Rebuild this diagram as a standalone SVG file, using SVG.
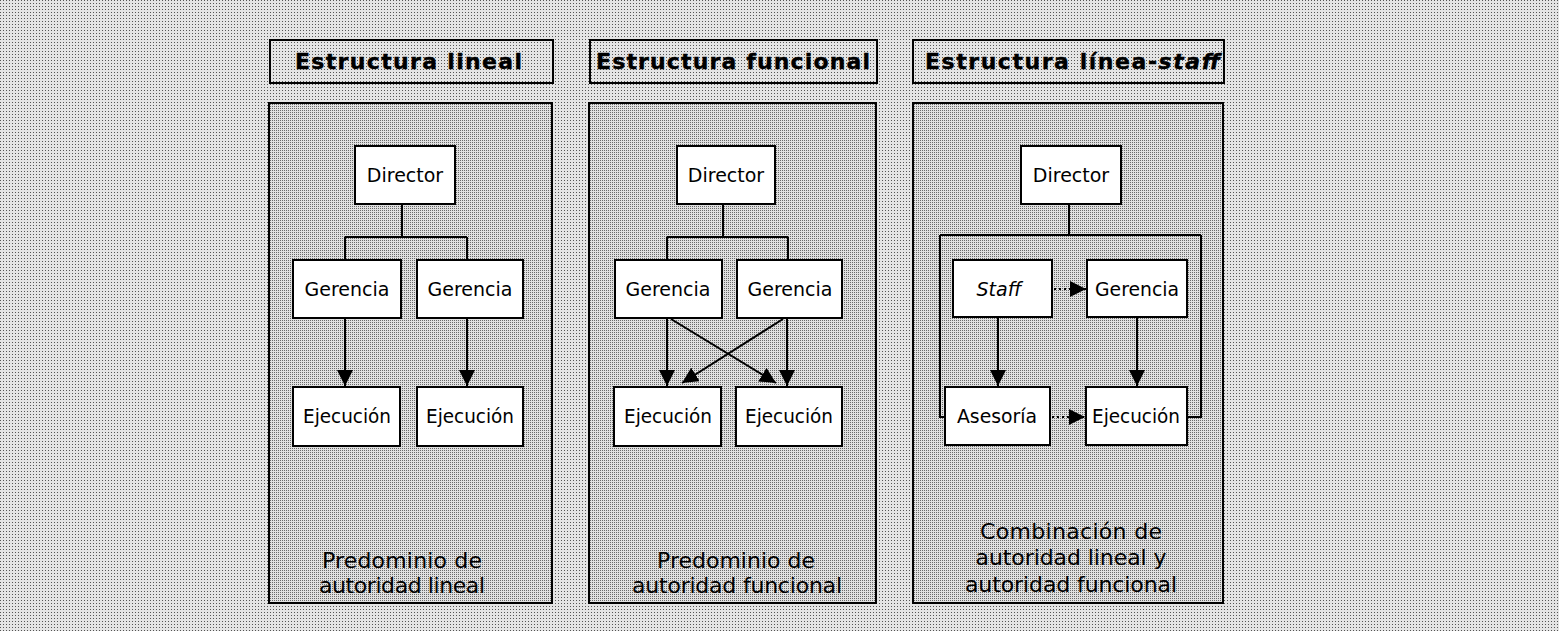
<svg xmlns="http://www.w3.org/2000/svg" width="1559" height="631" viewBox="0 0 1559 631">
<style>
.node{fill:#fff;stroke:#000;stroke-width:2}
.frame{stroke:#000;stroke-width:2}
.nt{font-family:"DejaVu Sans","Liberation Sans",sans-serif;font-size:19px;text-anchor:middle;fill:#000}
.tt{font-family:"DejaVu Sans","Liberation Sans",sans-serif;font-size:22px;font-weight:bold;fill:#000;stroke:#000;stroke-width:0.4}
.ft{font-family:"DejaVu Sans","Liberation Sans",sans-serif;font-size:22px;fill:#000;text-anchor:middle}
.ln{fill:none;stroke:#000;stroke-width:2}
.dot{fill:none;stroke:#000;stroke-width:2;stroke-dasharray:2 3}
</style>
<defs>
<pattern id="bgp" width="3" height="3" patternUnits="userSpaceOnUse">
<rect width="3" height="3" fill="#e4e4e4"/>
<rect width="1" height="1" fill="#555"/>
</pattern>
<pattern id="pnp" width="2" height="2" patternUnits="userSpaceOnUse">
<rect width="2" height="2" fill="#e0e0e0"/>
<rect width="1" height="1" fill="#6a6a6a"/>
</pattern>
<marker id="ah" viewBox="0 0 16 16" refX="16" refY="8" markerWidth="16" markerHeight="16" markerUnits="userSpaceOnUse" orient="auto">
<path d="M0,0 L16,8 L0,16 z" fill="#000"/>
</marker>
</defs>
<rect width="1559" height="631" fill="url(#bgp)"/>

<!-- Panel 1 -->
<g id="panel1">
<rect class="frame" x="270" y="40" width="283" height="43" fill="url(#bgp)"/>
<text class="tt" x="295" y="69" textLength="227" lengthAdjust="spacing">Estructura lineal</text>
<rect class="frame" x="269" y="103" width="283" height="500" fill="url(#pnp)"/>
<text class="ft" x="402" y="568" textLength="160" lengthAdjust="spacing">Predominio de</text>
<text class="ft" x="402" y="593" textLength="166" lengthAdjust="spacing">autoridad lineal</text>
</g>
<g id="p1-director"><rect class="node" x="355" y="146" width="100" height="58"/><text class="nt" x="405" y="182">Director</text></g>
<g id="p1-gerencia1"><rect class="node" x="293" y="260" width="108" height="58"/><text class="nt" x="347" y="296">Gerencia</text></g>
<g id="p1-gerencia2"><rect class="node" x="417" y="260" width="106" height="58"/><text class="nt" x="470" y="296">Gerencia</text></g>
<g id="p1-ejecucion1"><rect class="node" x="293" y="387" width="107" height="59"/><text class="nt" x="347" y="423" textLength="88" lengthAdjust="spacingAndGlyphs">Ejecución</text></g>
<g id="p1-ejecucion2"><rect class="node" x="417" y="387" width="106" height="59"/><text class="nt" x="470" y="423" textLength="88" lengthAdjust="spacingAndGlyphs">Ejecución</text></g>

<!-- Panel 2 -->
<g id="panel2">
<rect class="frame" x="590" y="40" width="287" height="43" fill="url(#bgp)"/>
<text class="tt" x="596" y="69" textLength="274" lengthAdjust="spacing">Estructura funcional</text>
<rect class="frame" x="589" y="103" width="287" height="500" fill="url(#pnp)"/>
<text class="ft" x="736" y="568" textLength="158" lengthAdjust="spacing">Predominio de</text>
<text class="ft" x="737" y="593" textLength="210" lengthAdjust="spacing">autoridad funcional</text>
</g>
<g id="p2-director"><rect class="node" x="677" y="146" width="98" height="58"/><text class="nt" x="726" y="182">Director</text></g>
<g id="p2-gerencia1"><rect class="node" x="615" y="260" width="107" height="58"/><text class="nt" x="668" y="296">Gerencia</text></g>
<g id="p2-gerencia2"><rect class="node" x="737" y="260" width="105" height="58"/><text class="nt" x="790" y="296">Gerencia</text></g>
<g id="p2-ejecucion1"><rect class="node" x="614" y="387" width="107" height="59"/><text class="nt" x="668" y="423" textLength="88" lengthAdjust="spacingAndGlyphs">Ejecución</text></g>
<g id="p2-ejecucion2"><rect class="node" x="736" y="387" width="106" height="59"/><text class="nt" x="789" y="423" textLength="88" lengthAdjust="spacingAndGlyphs">Ejecución</text></g>

<!-- Panel 3 -->
<g id="panel3">
<rect class="frame" x="913" y="40" width="311" height="43" fill="url(#bgp)"/>
<text class="tt" x="925" y="69" textLength="295" lengthAdjust="spacing">Estructura línea-<tspan font-style="italic">staff</tspan></text>
<rect class="frame" x="913" y="103" width="310" height="500" fill="url(#pnp)"/>
<text class="ft" x="1071" y="539" textLength="182" lengthAdjust="spacing">Combinación de</text>
<text class="ft" x="1071" y="565" textLength="191" lengthAdjust="spacing">autoridad lineal y</text>
<text class="ft" x="1071" y="592" textLength="212" lengthAdjust="spacing">autoridad funcional</text>
</g>
<g id="p3-director"><rect class="node" x="1021" y="146" width="100" height="58"/><text class="nt" x="1071" y="182">Director</text></g>
<g id="p3-staff"><rect class="node" x="953" y="260" width="99" height="57"/><text class="nt" x="999" y="296" font-style="italic" font-size="16px">Staff</text></g>
<g id="p3-gerencia"><rect class="node" x="1087" y="260" width="100" height="57"/><text class="nt" x="1137" y="296" textLength="84" lengthAdjust="spacingAndGlyphs">Gerencia</text></g>
<g id="p3-asesoria"><rect class="node" x="945" y="387" width="105" height="58"/><text class="nt" x="997" y="423" textLength="80" lengthAdjust="spacingAndGlyphs">Asesoría</text></g>
<g id="p3-ejecucion"><rect class="node" x="1086" y="387" width="101" height="58"/><text class="nt" x="1136" y="423" textLength="88" lengthAdjust="spacingAndGlyphs">Ejecución</text></g>

<!-- Connectors -->
<g id="connectors">
<path class="ln" d="M402,204 V237 M345,237 H467 M345,237 V260 M467,237 V260"/>
<line class="ln" x1="345" y1="318" x2="345" y2="386" marker-end="url(#ah)"/>
<line class="ln" x1="467" y1="318" x2="467" y2="386" marker-end="url(#ah)"/>

<path class="ln" d="M723,204 V237 M667,237 H788 M667,237 V260 M788,237 V260"/>
<line class="ln" x1="667" y1="318" x2="667" y2="386" marker-end="url(#ah)"/>
<line class="ln" x1="787" y1="318" x2="787" y2="386" marker-end="url(#ah)"/>
<line class="ln" x1="671" y1="319" x2="776" y2="383" marker-end="url(#ah)"/>
<line class="ln" x1="783" y1="319" x2="682" y2="383" marker-end="url(#ah)"/>

<path class="ln" d="M1069,204 V235 M940,235 H1201 M940,235 V417 H945 M1201,235 V417 H1187"/>
<line class="ln" x1="998" y1="317" x2="998" y2="386" marker-end="url(#ah)"/>
<line class="ln" x1="1137" y1="317" x2="1137" y2="386" marker-end="url(#ah)"/>
<line class="dot" x1="1054" y1="289" x2="1086" y2="289" marker-end="url(#ah)"/>
<line class="dot" x1="1052" y1="417" x2="1085" y2="417" marker-end="url(#ah)"/>
</g>
</svg>
